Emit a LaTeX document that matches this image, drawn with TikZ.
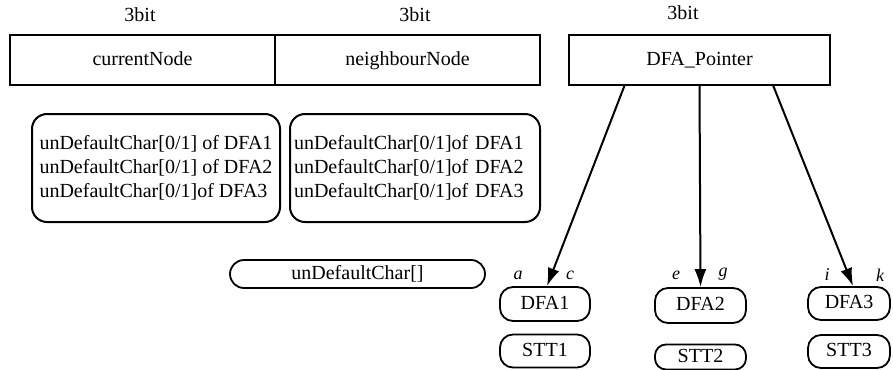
\documentclass[tikz,border=0pt]{standalone}
\usepackage{fontspec}
\setmainfont{Liberation Serif}
\usetikzlibrary{calc,arrows.meta}
\begin{document}
\begin{tikzpicture}[x=1pt,y=-1pt,
  every node/.style={font=\fontsize{20}{24}\selectfont, inner sep=0pt},
  oneline/.style={text height=14pt, text depth=4pt},
  field/.style={draw, line width=2pt, rectangle, minimum height=49pt, oneline},
  infobox/.style={draw, line width=2pt, rounded corners=15pt, align=left,
    minimum height=108pt, inner ysep=0pt},
  pill/.style={draw, line width=1.8pt, rounded corners=13pt, oneline},
  tag/.style={font=\fontsize{18}{20}\selectfont\itshape},
  link/.style={line width=2pt, -{Latex[length=18pt,width=12pt]}}]
  \useasboundingbox (0,0) rectangle (893,369);

  % bit-width labels
  \node[oneline] (w1) at (140,17) {3bit};
  \node[oneline] (w2) at (415,17) {3bit};
  \node[oneline] (w3) at (683,15) {3bit};

  % register fields
  \node[field, minimum width=265pt] (cur) at (142.5,60) {currentNode};
  \node[field, minimum width=265pt] (nb)  at (407.5,60) {neighbourNode};
  \node[field, minimum width=261pt] (ptr) at (699.5,60) {DFA\_Pointer};

  % per-node flag tables
  \node[infobox, minimum width=248pt] (tab1) at (156,168)
    {unDefaultChar[0/1] of DFA1\\unDefaultChar[0/1] of DFA2\\unDefaultChar[0/1]of DFA3};
  \node[infobox, text width=242pt, inner xsep=4pt] (tab2) at (415,168)
    {unDefaultChar[0/1]of DFA1\\unDefaultChar[0/1]of DFA2\\unDefaultChar[0/1]of DFA3};

  \node[pill, minimum width=255pt, minimum height=28pt, rounded corners=14pt] (udc) at (357.5,274) {unDefaultChar[]};

  % automata and their state transition tables
  \node[pill, minimum width=90pt, minimum height=34pt] (dfa1) at (545,304) {DFA1};
  \node[pill, minimum width=90pt, minimum height=33pt] (stt1) at (545,351) {STT1};
  \node[pill, minimum width=91pt, minimum height=35pt] (dfa2) at (700.5,305.5) {DFA2};
  \node[pill, minimum width=91pt, minimum height=25pt, rounded corners=11pt] (stt2) at (700.5,357) {STT2};
  \node[pill, minimum width=82pt, minimum height=33pt] (dfa3) at (849,303.5) {DFA3};
  \node[pill, minimum width=82pt, minimum height=33pt] (stt3) at (849,351.5) {STT3};

  % state labels
  \node[tag] (la) at (518,275) {a};
  \node[tag] (lc) at (570,275) {c};
  \node[tag] (le) at (676,275) {e};
  \node[tag] (lg) at (723,274) {g};
  \node[tag] (li) at (827,275) {i};
  \node[tag] (lk) at (880,275) {k};

  % pointer links
  \draw[link] ($(ptr.south west)!0.215!(ptr.south east)$) -- ($(dfa1.north)+(2,0)$);
  \draw[link] (ptr.south) -- (dfa2.north);
  \draw[link] ($(ptr.south west)!0.78!(ptr.south east)$) -- ($(dfa3.north)+(4,0)$);
\end{tikzpicture}
\end{document}
